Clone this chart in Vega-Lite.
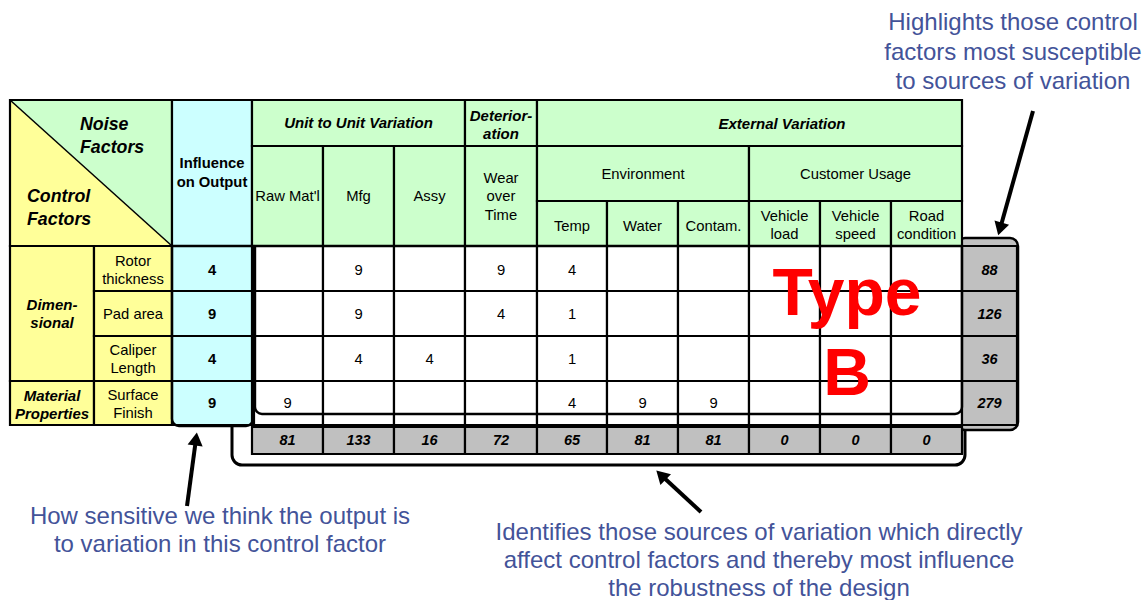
{
  "$schema": "https://vega.github.io/schema/vega-lite/v6.json",
  "width": 1143,
  "height": 600,
  "autosize": {"type": "none"},
  "padding": 0,
  "background": "white",
  "config": {"view": {"stroke": null}},
  "datasets": {
    "bracket": [{"x": 232, "x2": 965, "y": 395, "y2": 465}],
    "scorebox": [{"x": 957, "x2": 1018, "y": 238, "y2": 430}],
    "corner": [
      {"x": 10, "y": 100, "y2": 100, "zone": "noise"},
      {"x": 172, "y": 246, "y2": 100, "zone": "noise"},
      {"x": 10, "y": 100, "y2": 246, "zone": "control"},
      {"x": 172, "y": 246, "y2": 246, "zone": "control"}
    ],
    "cells": [
      {"x": 10, "x2": 172, "y": 100, "y2": 246, "zone": "none"},
      {"x": 172, "x2": 252, "y": 100, "y2": 246, "zone": "influence"},
      {"x": 252, "x2": 465, "y": 100, "y2": 146, "zone": "noise"},
      {"x": 465, "x2": 537, "y": 100, "y2": 146, "zone": "noise"},
      {"x": 537, "x2": 962, "y": 100, "y2": 146, "zone": "noise"},
      {"x": 252, "x2": 323, "y": 146, "y2": 246, "zone": "noise"},
      {"x": 323, "x2": 394, "y": 146, "y2": 246, "zone": "noise"},
      {"x": 394, "x2": 465, "y": 146, "y2": 246, "zone": "noise"},
      {"x": 465, "x2": 537, "y": 146, "y2": 246, "zone": "noise"},
      {"x": 537, "x2": 749, "y": 146, "y2": 201, "zone": "noise"},
      {"x": 749, "x2": 962, "y": 146, "y2": 201, "zone": "noise"},
      {"x": 537, "x2": 607, "y": 201, "y2": 246, "zone": "noise"},
      {"x": 607, "x2": 678, "y": 201, "y2": 246, "zone": "noise"},
      {"x": 678, "x2": 749, "y": 201, "y2": 246, "zone": "noise"},
      {"x": 749, "x2": 820, "y": 201, "y2": 246, "zone": "noise"},
      {"x": 820, "x2": 891, "y": 201, "y2": 246, "zone": "noise"},
      {"x": 891, "x2": 962, "y": 201, "y2": 246, "zone": "noise"},
      {"x": 10, "x2": 94, "y": 246, "y2": 381, "zone": "control"},
      {"x": 10, "x2": 94, "y": 381, "y2": 425, "zone": "control"},
      {"x": 94, "x2": 172, "y": 246, "y2": 291, "zone": "control"},
      {"x": 94, "x2": 172, "y": 291, "y2": 336, "zone": "control"},
      {"x": 94, "x2": 172, "y": 336, "y2": 381, "zone": "control"},
      {"x": 94, "x2": 172, "y": 381, "y2": 425, "zone": "control"},
      {"x": 172, "x2": 252, "y": 246, "y2": 291, "zone": "influence"},
      {"x": 172, "x2": 252, "y": 291, "y2": 336, "zone": "influence"},
      {"x": 172, "x2": 252, "y": 336, "y2": 381, "zone": "influence"},
      {"x": 172, "x2": 252, "y": 381, "y2": 425, "zone": "influence"},
      {"x": 254, "x2": 323, "y": 246, "y2": 291, "zone": "body"},
      {"x": 323, "x2": 394, "y": 246, "y2": 291, "zone": "body"},
      {"x": 394, "x2": 465, "y": 246, "y2": 291, "zone": "body"},
      {"x": 465, "x2": 537, "y": 246, "y2": 291, "zone": "body"},
      {"x": 537, "x2": 607, "y": 246, "y2": 291, "zone": "body"},
      {"x": 607, "x2": 678, "y": 246, "y2": 291, "zone": "body"},
      {"x": 678, "x2": 749, "y": 246, "y2": 291, "zone": "body"},
      {"x": 749, "x2": 820, "y": 246, "y2": 291, "zone": "body"},
      {"x": 820, "x2": 891, "y": 246, "y2": 291, "zone": "body"},
      {"x": 891, "x2": 962, "y": 246, "y2": 291, "zone": "body"},
      {"x": 254, "x2": 323, "y": 291, "y2": 336, "zone": "body"},
      {"x": 323, "x2": 394, "y": 291, "y2": 336, "zone": "body"},
      {"x": 394, "x2": 465, "y": 291, "y2": 336, "zone": "body"},
      {"x": 465, "x2": 537, "y": 291, "y2": 336, "zone": "body"},
      {"x": 537, "x2": 607, "y": 291, "y2": 336, "zone": "body"},
      {"x": 607, "x2": 678, "y": 291, "y2": 336, "zone": "body"},
      {"x": 678, "x2": 749, "y": 291, "y2": 336, "zone": "body"},
      {"x": 749, "x2": 820, "y": 291, "y2": 336, "zone": "body"},
      {"x": 820, "x2": 891, "y": 291, "y2": 336, "zone": "body"},
      {"x": 891, "x2": 962, "y": 291, "y2": 336, "zone": "body"},
      {"x": 254, "x2": 323, "y": 336, "y2": 381, "zone": "body"},
      {"x": 323, "x2": 394, "y": 336, "y2": 381, "zone": "body"},
      {"x": 394, "x2": 465, "y": 336, "y2": 381, "zone": "body"},
      {"x": 465, "x2": 537, "y": 336, "y2": 381, "zone": "body"},
      {"x": 537, "x2": 607, "y": 336, "y2": 381, "zone": "body"},
      {"x": 607, "x2": 678, "y": 336, "y2": 381, "zone": "body"},
      {"x": 678, "x2": 749, "y": 336, "y2": 381, "zone": "body"},
      {"x": 749, "x2": 820, "y": 336, "y2": 381, "zone": "body"},
      {"x": 820, "x2": 891, "y": 336, "y2": 381, "zone": "body"},
      {"x": 891, "x2": 962, "y": 336, "y2": 381, "zone": "body"},
      {"x": 254, "x2": 323, "y": 381, "y2": 425, "zone": "body"},
      {"x": 323, "x2": 394, "y": 381, "y2": 425, "zone": "body"},
      {"x": 394, "x2": 465, "y": 381, "y2": 425, "zone": "body"},
      {"x": 465, "x2": 537, "y": 381, "y2": 425, "zone": "body"},
      {"x": 537, "x2": 607, "y": 381, "y2": 425, "zone": "body"},
      {"x": 607, "x2": 678, "y": 381, "y2": 425, "zone": "body"},
      {"x": 678, "x2": 749, "y": 381, "y2": 425, "zone": "body"},
      {"x": 749, "x2": 820, "y": 381, "y2": 425, "zone": "body"},
      {"x": 820, "x2": 891, "y": 381, "y2": 425, "zone": "body"},
      {"x": 891, "x2": 962, "y": 381, "y2": 425, "zone": "body"},
      {"x": 252, "x2": 323, "y": 427, "y2": 454, "zone": "total"},
      {"x": 323, "x2": 394, "y": 427, "y2": 454, "zone": "total"},
      {"x": 394, "x2": 465, "y": 427, "y2": 454, "zone": "total"},
      {"x": 465, "x2": 537, "y": 427, "y2": 454, "zone": "total"},
      {"x": 537, "x2": 607, "y": 427, "y2": 454, "zone": "total"},
      {"x": 607, "x2": 678, "y": 427, "y2": 454, "zone": "total"},
      {"x": 678, "x2": 749, "y": 427, "y2": 454, "zone": "total"},
      {"x": 749, "x2": 820, "y": 427, "y2": 454, "zone": "total"},
      {"x": 820, "x2": 891, "y": 427, "y2": 454, "zone": "total"},
      {"x": 891, "x2": 962, "y": 427, "y2": 454, "zone": "total"},
      {"x": 962, "x2": 1017, "y": 246, "y2": 291, "zone": "total"},
      {"x": 962, "x2": 1017, "y": 291, "y2": 336, "zone": "total"},
      {"x": 962, "x2": 1017, "y": 336, "y2": 381, "zone": "total"},
      {"x": 962, "x2": 1017, "y": 381, "y2": 425, "zone": "total"}
    ],
    "diagonal": [{"x": 10, "y": 100, "x2": 172, "y2": 246}],
    "outlines": [
      {"x": 172, "x2": 253, "y": 246, "y2": 426},
      {"x": 255, "x2": 962, "y": 246, "y2": 414}
    ],
    "arrows": [
      {"id": "a1", "seq": 0, "x": 187, "y": 506},
      {"id": "a1", "seq": 1, "x": 196, "y": 439},
      {"id": "a2", "seq": 0, "x": 701, "y": 512},
      {"id": "a2", "seq": 1, "x": 661, "y": 475},
      {"id": "a3", "seq": 0, "x": 1033, "y": 111},
      {"id": "a3", "seq": 1, "x": 1000, "y": 229}
    ],
    "heads": [
      {"x": 196, "y": 439, "heading": 7.6},
      {"x": 661, "y": 475, "heading": 314.4},
      {"x": 1000, "y": 229, "heading": 195.8}
    ],
    "headBI": [
      {"x": 358.5, "y": 123, "label": "Unit to Unit Variation"},
      {"x": 501, "y": 116, "label": "Deterior-\nation"},
      {"x": 782, "y": 124, "label": "External Variation"},
      {"x": 52, "y": 305, "label": "Dimen-\nsional"},
      {"x": 52, "y": 396, "label": "Material\nProperties"}
    ],
    "bigBI": [
      {"x": 80, "y": 125, "label": "Noise\nFactors"},
      {"x": 27, "y": 197, "label": "Control\nFactors"}
    ],
    "boldT": [
      {"x": 212, "y": 164, "label": "Influence\non Output"},
      {"x": 212, "y": 270.5, "label": "4"},
      {"x": 212, "y": 315, "label": "9"},
      {"x": 212, "y": 360, "label": "4"},
      {"x": 212, "y": 404, "label": "9"}
    ],
    "plain": [
      {"x": 287.5, "y": 197, "label": "Raw Mat'l"},
      {"x": 358.5, "y": 197, "label": "Mfg"},
      {"x": 429.5, "y": 197, "label": "Assy"},
      {"x": 501, "y": 179, "label": "Wear\nover\nTime"},
      {"x": 643, "y": 175, "label": "Environment"},
      {"x": 855.5, "y": 175, "label": "Customer Usage"},
      {"x": 572, "y": 227, "label": "Temp"},
      {"x": 642.5, "y": 227, "label": "Water"},
      {"x": 713.5, "y": 227, "label": "Contam."},
      {"x": 784.5, "y": 217, "label": "Vehicle\nload"},
      {"x": 855.5, "y": 217, "label": "Vehicle\nspeed"},
      {"x": 926.5, "y": 217, "label": "Road\ncondition"},
      {"x": 133, "y": 262, "label": "Rotor\nthickness"},
      {"x": 133, "y": 315, "label": "Pad area"},
      {"x": 133, "y": 351, "label": "Caliper\nLength"},
      {"x": 133, "y": 396, "label": "Surface\nFinish"},
      {"x": 358.5, "y": 270.5, "label": "9"},
      {"x": 501, "y": 270.5, "label": "9"},
      {"x": 572, "y": 270.5, "label": "4"},
      {"x": 358.5, "y": 315, "label": "9"},
      {"x": 501, "y": 315, "label": "4"},
      {"x": 572, "y": 315, "label": "1"},
      {"x": 358.5, "y": 360, "label": "4"},
      {"x": 429.5, "y": 360, "label": "4"},
      {"x": 572, "y": 360, "label": "1"},
      {"x": 287.5, "y": 404, "label": "9"},
      {"x": 572, "y": 404, "label": "4"},
      {"x": 642.5, "y": 404, "label": "9"},
      {"x": 713.5, "y": 404, "label": "9"}
    ],
    "totals": [
      {"x": 287.5, "y": 441, "label": "81"},
      {"x": 358.5, "y": 441, "label": "133"},
      {"x": 429.5, "y": 441, "label": "16"},
      {"x": 501, "y": 441, "label": "72"},
      {"x": 572, "y": 441, "label": "65"},
      {"x": 642.5, "y": 441, "label": "81"},
      {"x": 713.5, "y": 441, "label": "81"},
      {"x": 784.5, "y": 441, "label": "0"},
      {"x": 855.5, "y": 441, "label": "0"},
      {"x": 926.5, "y": 441, "label": "0"},
      {"x": 989.5, "y": 270.5, "label": "88"},
      {"x": 989.5, "y": 315, "label": "126"},
      {"x": 989.5, "y": 360, "label": "36"},
      {"x": 989.5, "y": 404, "label": "279"}
    ],
    "notesBottom": [
      {"x": 220, "y": 524, "label": "How sensitive we think the output is\nto variation in this control factor"},
      {"x": 759, "y": 540, "label": "Identifies those sources of variation which directly\naffect control factors and thereby most influence\nthe robustness of the design"}
    ],
    "notesTop": [
      {"x": 1013, "y": 30, "label": "Highlights those control\nfactors most susceptible\nto sources of variation"}
    ],
    "stamp": [
      {"x": 847, "y": 315, "label": "Type"},
      {"x": 847, "y": 395, "label": "B"}
    ]
  },
  "encoding": {
    "x": {"field": "x", "type": "quantitative", "scale": {"domain": [0, 1143], "nice": false, "zero": false}, "axis": null},
    "y": {"field": "y", "type": "quantitative", "scale": {"domain": [0, 600], "nice": false, "zero": false, "reverse": true}, "axis": null}
  },
  "layer": [
    {
      "data": {"name": "bracket"},
      "mark": {"type": "rect", "filled": false, "stroke": "black", "strokeWidth": 3, "cornerRadius": 10},
      "encoding": {"x2": {"field": "x2"}, "y2": {"field": "y2"}}
    },
    {
      "data": {"name": "scorebox"},
      "mark": {"type": "rect", "fill": "#c0c0c0", "stroke": "black", "strokeWidth": 2.5, "cornerRadius": 8},
      "encoding": {"x2": {"field": "x2"}, "y2": {"field": "y2"}}
    },
    {
      "data": {"name": "corner"},
      "mark": {"type": "area", "strokeWidth": 0, "orient": "vertical"},
      "encoding": {
        "y2": {"field": "y2"},
        "fill": {"field": "zone", "type": "nominal", "legend": null,
          "scale": {"domain": ["noise", "control", "influence", "body", "total", "none"], "range": ["#ccffcc", "#ffff99", "#ccffff", "#ffffff", "#c0c0c0", "transparent"]}}
      }
    },
    {
      "data": {"name": "cells"},
      "mark": {"type": "rect", "stroke": "black", "strokeWidth": 2.2},
      "encoding": {
        "x2": {"field": "x2"}, "y2": {"field": "y2"},
        "fill": {"field": "zone", "type": "nominal", "legend": null,
          "scale": {"domain": ["noise", "control", "influence", "body", "total", "none"], "range": ["#ccffcc", "#ffff99", "#ccffff", "#ffffff", "#c0c0c0", "transparent"]}}
      }
    },
    {
      "data": {"name": "diagonal"},
      "mark": {"type": "rule", "stroke": "black", "strokeWidth": 1.5},
      "encoding": {"x2": {"field": "x2"}, "y2": {"field": "y2"}}
    },
    {
      "data": {"name": "outlines"},
      "mark": {"type": "rect", "filled": false, "stroke": "black", "strokeWidth": 2.4, "cornerRadiusTopLeft": 0, "cornerRadiusTopRight": 0, "cornerRadiusBottomLeft": 7, "cornerRadiusBottomRight": 7},
      "encoding": {"x2": {"field": "x2"}, "y2": {"field": "y2"}}
    },
    {
      "data": {"name": "arrows"},
      "mark": {"type": "line", "stroke": "black", "strokeWidth": 4},
      "encoding": {"detail": {"field": "id"}, "order": {"field": "seq", "type": "quantitative"}}
    },
    {
      "data": {"name": "heads"},
      "mark": {"type": "point", "shape": "triangle-up", "filled": true, "fill": "black", "opacity": 1, "size": 230, "strokeWidth": 0},
      "encoding": {"angle": {"field": "heading", "type": "quantitative", "scale": {"domain": [0, 360], "range": [0, 360]}}}
    },
    {
      "data": {"name": "headBI"},
      "mark": {"type": "text", "font": "Liberation Sans", "fontSize": 15, "fontWeight": "bold", "fontStyle": "italic", "lineBreak": "\n", "lineHeight": 18, "baseline": "middle", "align": "center", "fill": "black"},
      "encoding": {"text": {"field": "label"}}
    },
    {
      "data": {"name": "bigBI"},
      "mark": {"type": "text", "font": "Liberation Sans", "fontSize": 17.8, "fontWeight": "bold", "fontStyle": "italic", "lineBreak": "\n", "lineHeight": 23, "baseline": "middle", "align": "left", "fill": "black"},
      "encoding": {"text": {"field": "label"}}
    },
    {
      "data": {"name": "boldT"},
      "mark": {"type": "text", "font": "Liberation Sans", "fontSize": 14.8, "fontWeight": "bold", "lineBreak": "\n", "lineHeight": 19, "baseline": "middle", "align": "center", "fill": "black"},
      "encoding": {"text": {"field": "label"}}
    },
    {
      "data": {"name": "plain"},
      "mark": {"type": "text", "font": "Liberation Sans", "fontSize": 14.8, "lineBreak": "\n", "lineHeight": 18.3, "baseline": "middle", "align": "center", "fill": "black"},
      "encoding": {"text": {"field": "label"}}
    },
    {
      "data": {"name": "totals"},
      "mark": {"type": "text", "font": "Liberation Sans", "fontSize": 14.5, "fontWeight": "bold", "fontStyle": "italic", "baseline": "middle", "align": "center", "fill": "black"},
      "encoding": {"text": {"field": "label"}}
    },
    {
      "data": {"name": "notesBottom"},
      "mark": {"type": "text", "font": "Liberation Sans", "fontSize": 24, "lineBreak": "\n", "lineHeight": 28, "baseline": "alphabetic", "align": "center", "fill": "#435399"},
      "encoding": {"text": {"field": "label"}}
    },
    {
      "data": {"name": "notesTop"},
      "mark": {"type": "text", "font": "Liberation Sans", "fontSize": 24, "lineBreak": "\n", "lineHeight": 29.5, "baseline": "alphabetic", "align": "center", "fill": "#435399"},
      "encoding": {"text": {"field": "label"}}
    },
    {
      "data": {"name": "stamp"},
      "mark": {"type": "text", "font": "Liberation Sans", "fontSize": 66, "fontWeight": "bold", "baseline": "alphabetic", "align": "center", "fill": "#ff0000"},
      "encoding": {"text": {"field": "label"}}
    }
  ]
}
